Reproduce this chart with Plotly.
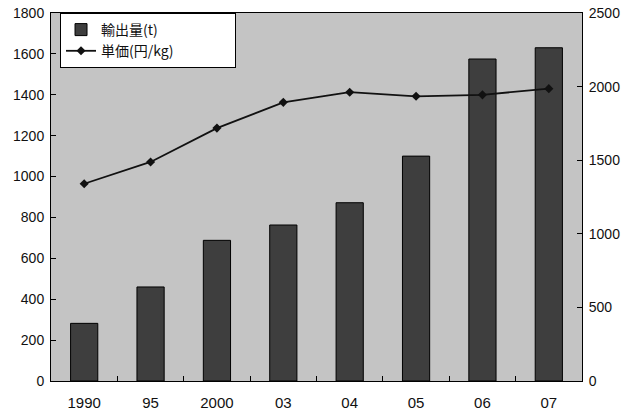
import plotly.graph_objects as go

categories = ["1990", "95", "2000", "03", "04", "05", "06", "07"]
export_t = [282, 460, 688, 763, 872, 1100, 1575, 1630]
price_yen_kg = [1340, 1488, 1718, 1893, 1962, 1934, 1944, 1986]
series_names = ["輸出量(t)", "単価(円/kg)"]

FONT = "Noto Sans CJK JP"
TICKFONT = "Liberation Sans, Arial, sans-serif"
PAD = "\u3000\u3000\u3000\u3000"

fig = go.Figure()
fig.add_trace(go.Bar(
    x=categories, y=export_t, name=series_names[0] + PAD,
    marker=dict(color="#3e3e3e", line=dict(color="#000000", width=1)),
    yaxis="y",
))
fig.add_trace(go.Scatter(
    x=categories, y=price_yen_kg, name=series_names[1] + PAD, mode="lines+markers",
    line=dict(color="#111111", width=1.8),
    marker=dict(symbol="diamond", size=7, color="#111111"),
    yaxis="y2",
))

fig.update_layout(
    width=627, height=417,
    margin=dict(l=51, r=45, t=13, b=36, autoexpand=False),
    paper_bgcolor="white",
    plot_bgcolor="#c4c4c4",
    bargap=0.59,
    font=dict(family=FONT, size=13, color="#111111"),
    showlegend=True,
    legend=dict(
        x=0.017, y=1.0, xanchor="left", yanchor="top",
        bgcolor="white", bordercolor="black", borderwidth=1,
        font=dict(family=FONT, size=14, color="#111111"),
        tracegroupgap=0,
    ),
    xaxis=dict(
        type="category", showgrid=False, showline=True, linecolor="black",
        linewidth=1, mirror=True, ticks="inside", ticklen=5,
        tickcolor="black", tickson="boundaries", automargin=False,
        ticklabelstandoff=8,
        tickfont=dict(family=TICKFONT, size=15),
    ),
    yaxis=dict(
        range=[0, 1800], dtick=200, showgrid=False, showline=True,
        linecolor="black", linewidth=1, ticks="inside", ticklen=5,
        tickcolor="black", zeroline=False, automargin=False,
        ticklabelstandoff=3,
        tickfont=dict(family=TICKFONT, size=14),
    ),
    yaxis2=dict(
        range=[0, 2500], dtick=500, overlaying="y", side="right",
        showgrid=False, showline=True, linecolor="black", linewidth=1,
        ticks="inside", ticklen=5, tickcolor="black", zeroline=False,
        automargin=False, ticklabelstandoff=3,
        tickfont=dict(family=TICKFONT, size=14),
    ),
)

fig.write_html(
    "out.html",
    config={"displayModeBar": False},
    post_script="document.body.style.margin='0';",
)
